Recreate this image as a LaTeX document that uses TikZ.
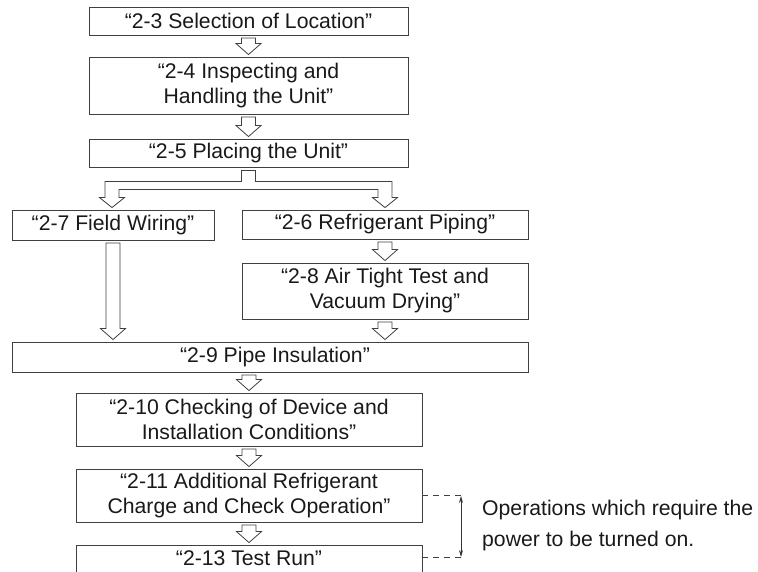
\documentclass[tikz,border=0pt]{standalone}
\usepackage{fontspec}
\setmainfont{Liberation Sans}
\usetikzlibrary{calc,arrows.meta}
\newcommand\flowarrow[3]{%
  \draw[harr] let \p1=(#1), \p2=(#2.south), \p3=(#3.north) in
    (\x1-7pt,\y2-2.5pt) -- (\x1+7pt,\y2-2.5pt) -- (\x1+7pt,\y3+13pt)
    -- (\x1+12.5pt,\y3+13pt) -- (\x1,\y3+2pt) -- (\x1-12.5pt,\y3+13pt)
    -- (\x1-7pt,\y3+13pt) -- cycle;}
\begin{document}
\begin{tikzpicture}[x=1pt,y=-1pt,
  box/.style={draw=black!75, line width=0.9pt, inner sep=0pt, align=center,
    font=\fontsize{21.2}{25}\selectfont, text=black!90},
  harr/.style={draw=black!75, line width=0.8pt, line join=miter},
  dimdash/.style={draw=black!75, line width=0.8pt, dash pattern=on 6pt off 5pt},
  dimarr/.style={draw=black!80, line width=0.8pt, {Stealth[length=7pt,width=4pt]}-{Stealth[length=7pt,width=4pt]}}
]
\useasboundingbox (0,0) rectangle (758,571);

\node[box, minimum width=319pt, minimum height=28pt] (b1) at (248.5,21) {“2-3 Selection of Location”};
\node[box, minimum width=319pt, minimum height=57pt] (b2) at (248.5,85.5) {“2-4 Inspecting and\\Handling the Unit”};
\node[box, minimum width=319pt, minimum height=28pt] (b3) at (248.5,153) {“2-5 Placing the Unit”};
\node[box, minimum width=202pt, minimum height=30pt] (b7) at (113,225) {“2-7 Field Wiring”};
\node[box, minimum width=286pt, minimum height=29pt] (b6) at (385,224.5) {“2-6 Refrigerant Piping”};
\node[box, minimum width=286pt, minimum height=56pt] (b8) at (385,291) {“2-8 Air Tight Test and\\Vacuum Drying”};
\node[box, minimum width=516pt, minimum height=30pt] (b9) at (270,357) {};
\node[box, draw=none] (b9t) at (275,357) {“2-9 Pipe Insulation”};
\node[box, minimum width=346pt, minimum height=53pt] (b10) at (249,419.5) {“2-10 Checking of Device and\\Installation Conditions”};
\node[box, minimum width=346pt, minimum height=53pt] (b11) at (249,495.5) {“2-11 Additional Refrigerant\\Charge and Check Operation”};
\node[box, minimum width=346pt, minimum height=30pt] (b13) at (249,560) {};
\node[box, draw=none] (b13t) at (249,558) {“2-13 Test Run”};

% block arrows
\flowarrow{b1.south}{b1}{b2}
\flowarrow{b2.south}{b2}{b3}
\flowarrow{b6.south}{b6}{b8}
\flowarrow{b8.south}{b8}{b9}
\flowarrow{b7.south}{b7}{b9}
\flowarrow{b10.north}{b9}{b10}
\flowarrow{b10.south}{b10}{b11}
\flowarrow{b11.south}{b11}{b13}

% split arrow
\draw[harr] let \p1=(b3.south), \p2=(b7.north), \p3=(b6.north) in
  (\x1-7pt,\y1-3pt) -- (\x1+7pt,\y1-3pt) -- (\x1+7pt,\y1-14pt)
  -- (\x3+7pt,\y1-14pt) -- (\x3+7pt,\y3+12pt) -- (\x3+12.5pt,\y3+12pt)
  -- (\x3,\y3+2pt) -- (\x3-12.5pt,\y3+12pt) -- (\x3-7pt,\y3+12pt)
  -- (\x3-7pt,\y1-22pt) -- (\x2+6pt,\y1-22pt) -- (\x2+6pt,\y2+12pt)
  -- (\x2+11.5pt,\y2+12pt) -- (\x2-1pt,\y2+2pt) -- (\x2-13.5pt,\y2+12pt)
  -- (\x2-8pt,\y2+12pt) -- (\x2-8pt,\y1-14pt) -- (\x1-7pt,\y1-14pt) -- cycle;

% dimension
\coordinate (d1) at (464,495.5);
\coordinate (d2) at (464,557);
\draw[dimdash] (b11.east) -- (d1);
\draw[dimdash] (d2 -| b13.east) -- (d2);
\draw[dimarr] ($(d1)+(-3,0.5)$) -- ($(d2)+(-3,0)$);

\node[anchor=west, align=left, inner sep=0pt, text=black!90,
  font=\fontsize{21.2}{31}\selectfont] (note) at (482,526)
  {Operations which require the\\power to be turned on.};
\end{tikzpicture}
\end{document}
